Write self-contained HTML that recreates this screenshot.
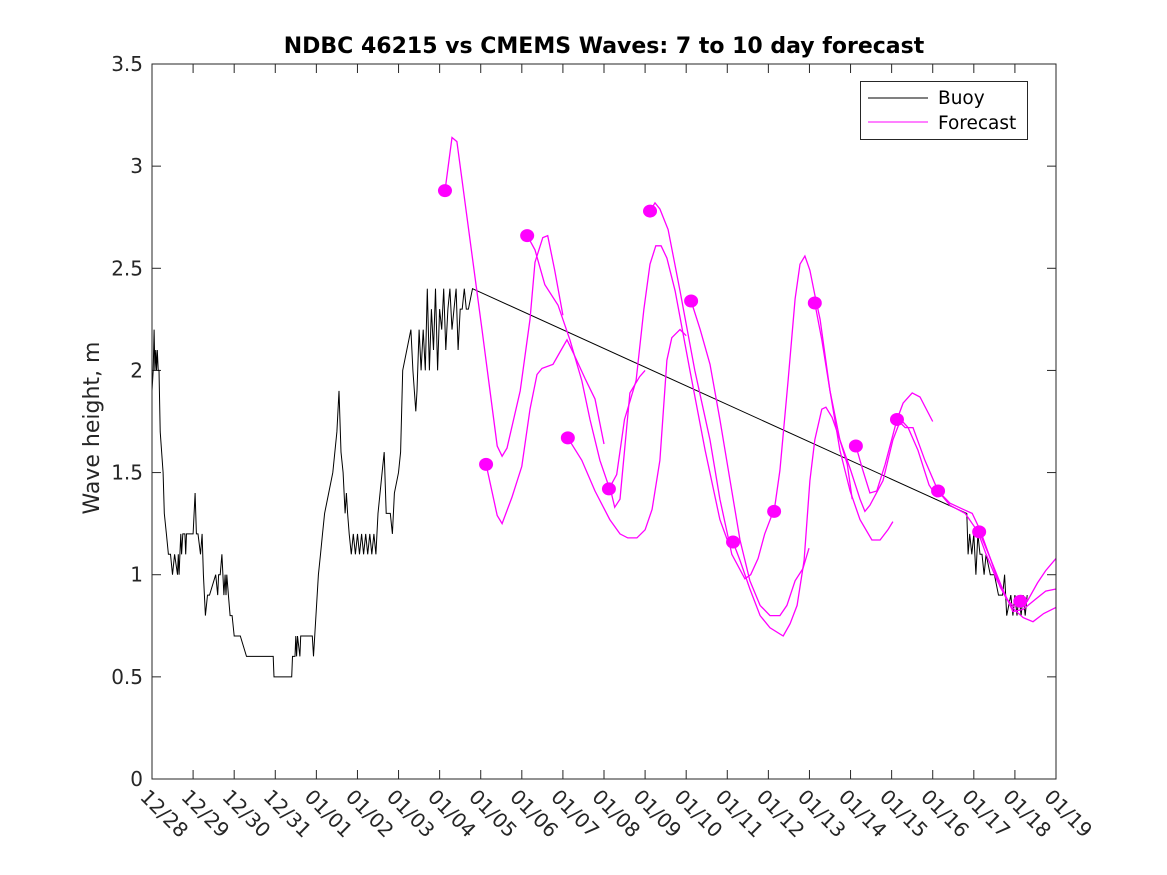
<!DOCTYPE html>
<html><head><meta charset="utf-8">
<style>
html,body{margin:0;padding:0;background:#fff;}
svg{display:block;font-family:"DejaVu Sans","Liberation Sans",sans-serif;}
</style></head>
<body>
<svg id="chart" width="1167" height="875" viewBox="0 0 1167 875" xmlns="http://www.w3.org/2000/svg">
<rect x="0" y="0" width="1167" height="875" fill="#fff"/>
<text x="604" y="53" text-anchor="middle" font-size="22" font-weight="bold" fill="#000">NDBC 46215 vs CMEMS Waves: 7 to 10 day forecast</text>
<text transform="translate(99,428) rotate(-90)" text-anchor="middle" font-size="22" fill="#262626">Wave height, m</text>
<g id="plot"></g>
<rect x="152" y="64" width="904" height="715" fill="none" stroke="#262626" stroke-width="1"/>
<g>
<rect x="860.5" y="81.5" width="167" height="58" fill="#fff" stroke="#262626"/>
<line x1="868" y1="98" x2="928" y2="98" stroke="#000"/>
<text x="938" y="104" font-size="18.5" fill="#000">Buoy</text>
<line x1="868" y1="122" x2="928" y2="122" stroke="#ff00ff"/>
<text x="938" y="129" font-size="18.5" fill="#000">Forecast</text>
</g>
</svg>
<script>
const xTickLabels=["12/28","12/29","12/30","12/31","01/01","01/02","01/03","01/04","01/05","01/06","01/07","01/08","01/09","01/10","01/11","01/12","01/13","01/14","01/15","01/16","01/17","01/18","01/19"];
const yTicks=[0,0.5,1,1.5,2,2.5,3,3.5];
const buoyT=[
0,0.03,0.05,0.07,0.09,0.11,0.13,0.15,0.17,0.2,
0.27,0.3,0.35,0.4,0.45,0.5,0.55,0.62,0.64,0.66,
0.68,0.7,0.72,0.75,0.8,0.82,0.84,0.86,0.88,0.9,
0.95,1.0,1.05,1.08,1.12,1.18,1.22,1.25,1.3,1.35,
1.4,1.55,1.6,1.62,1.66,1.7,1.75,1.78,1.8,1.82,
1.86,1.9,1.95,2.0,2.05,2.15,2.3,2.35,2.95,2.97,
3.4,3.42,3.48,3.5,3.52,3.54,3.6,3.62,3.9,3.93,
4.05,4.1,4.15,4.2,4.3,4.4,4.5,4.55,4.6,4.65,
4.7,4.73,4.76,4.8,4.85,4.9,4.95,5.0,5.05,5.1,
5.15,5.2,5.25,5.3,5.35,5.4,5.45,5.5,5.6,5.65,
5.7,5.8,5.85,5.9,6.0,6.05,6.1,6.2,6.3,6.35,
6.42,6.45,6.5,6.55,6.6,6.65,6.7,6.75,6.8,6.85,
6.9,6.95,7.0,7.05,7.1,7.15,7.2,7.25,7.3,7.35,
7.4,7.45,7.5,7.55,7.6,7.65,7.7,7.8,19.83,19.86,
19.9,19.95,20.0,20.05,20.1,20.15,20.2,20.25,20.3,20.4,
20.5,20.6,20.7,20.75,20.8,20.9,20.95,21.0,21.05,21.1,
21.15,21.2,21.25,21.3];
const buoyV=[
1.9,2.0,2.2,2.0,2.1,2.0,2.1,2.0,2.0,1.7,
1.5,1.3,1.2,1.1,1.1,1.0,1.1,1.0,1.1,1.0,
1.1,1.2,1.1,1.2,1.2,1.1,1.2,1.2,1.2,1.2,
1.2,1.2,1.4,1.2,1.2,1.1,1.2,1.0,0.8,0.9,
0.9,1.0,0.9,1.0,1.0,1.1,0.9,1.0,0.9,1.0,
0.9,0.8,0.8,0.7,0.7,0.7,0.6,0.6,0.6,0.5,
0.5,0.6,0.6,0.7,0.6,0.7,0.6,0.7,0.7,0.6,
1.0,1.1,1.2,1.3,1.4,1.5,1.7,1.9,1.6,1.5,
1.3,1.4,1.3,1.2,1.1,1.2,1.1,1.2,1.1,1.2,
1.1,1.2,1.1,1.2,1.1,1.2,1.1,1.3,1.5,1.6,
1.3,1.3,1.2,1.4,1.5,1.6,2.0,2.1,2.2,2.0,
1.8,1.9,2.2,2.0,2.2,2.0,2.4,2.0,2.3,2.1,
2.4,2.0,2.3,2.2,2.4,2.1,2.3,2.4,2.2,2.3,
2.4,2.1,2.3,2.3,2.4,2.3,2.3,2.4,1.3,1.1,
1.2,1.1,1.2,1.0,1.2,1.1,1.1,1.0,1.1,1.0,
1.0,0.9,0.9,1.0,0.8,0.9,0.8,0.9,0.8,0.9,
0.8,0.9,0.8,0.9];
const fcStarts=[7.13,8.13,9.13,10.12,11.12,12.12,13.12,14.14,15.14,16.13,17.13,18.13,19.13,20.13,21.13];
const fcT=[
[7.13,7.30,7.42,8.03,8.40,8.52,8.64,8.96,9.20,9.32,9.51,9.63,9.80,10.0],
[8.13,8.40,8.52,8.76,9.00,9.20,9.37,9.49,9.76,9.93,10.1,10.29,10.54,10.78,11.0],
[9.13,9.32,9.56,9.88,10.17,10.46,10.66,10.90,11.19,11.26,11.39,11.63,11.87,12.0],
[10.12,10.46,10.78,11.14,11.39,11.58,11.80,12.0,12.17,12.36,12.53,12.65,12.85,13.0],
[11.12,11.31,11.5,11.78,11.97,12.12,12.26,12.39,12.53,12.73,13.09,13.46,13.82,14.0],
[12.12,12.24,12.36,12.56,12.85,13.21,13.58,13.82,14.11,14.43,14.57,14.75,14.91,15.12],
[13.12,13.34,13.58,13.82,14.07,14.31,14.55,14.80,15.04,15.28,15.45,15.65,15.84,15.99],
[14.14,14.31,14.55,14.80,15.04,15.36,15.53,15.70,15.87,16.01,16.13,16.30,16.40,16.55,16.74,16.92,17.04],
[15.14,15.28,15.48,15.65,15.77,15.89,16.01,16.13,16.26,16.50,16.74,16.99,17.23,17.52,17.72,17.91,18.03],
[16.13,16.30,16.50,16.74,16.99,17.23,17.35,17.47,17.79,18.03,18.22,18.40,18.64,18.91,19.1],
[17.13,17.30,17.47,17.64,17.84,18.13,18.28,18.50,18.69,19.0],
[18.13,18.33,18.52,18.81,19.13,19.42,19.79,20.1,20.3,20.55,20.8,21.0],
[19.13,19.42,19.74,19.96,20.15,20.4,20.64,20.93,21.2,21.44,21.7,22.0],
[20.13,20.4,20.7,20.95,21.2,21.5,21.75,22.0],
[21.13,21.3,21.55,21.75,22.0]];
const fcV=[
[2.88,3.14,3.12,2.2,1.63,1.58,1.62,1.90,2.25,2.53,2.65,2.66,2.49,2.27],
[1.54,1.29,1.25,1.38,1.53,1.81,1.98,2.01,2.03,2.09,2.15,2.07,1.96,1.86,1.64],
[2.66,2.59,2.42,2.32,2.15,1.95,1.76,1.56,1.39,1.33,1.37,1.89,1.97,2.0],
[1.67,1.56,1.41,1.27,1.20,1.18,1.18,1.22,1.32,1.56,2.05,2.16,2.20,2.17],
[1.42,1.49,1.76,1.95,2.30,2.52,2.61,2.61,2.55,2.39,2.0,1.61,1.27,1.17],
[2.78,2.82,2.79,2.69,2.39,2.0,1.66,1.37,1.10,0.98,1.0,1.08,1.2,1.31],
[2.34,2.20,2.03,1.76,1.46,1.17,0.97,0.85,0.80,0.80,0.85,0.97,1.03,1.13],
[1.16,1.07,0.93,0.80,0.74,0.70,0.76,0.85,1.07,1.46,1.66,1.81,1.82,1.77,1.66,1.54,1.37],
[1.31,1.51,1.95,2.35,2.52,2.56,2.49,2.37,2.25,1.90,1.61,1.41,1.27,1.17,1.17,1.22,1.26],
[2.33,2.15,1.9,1.66,1.52,1.37,1.31,1.34,1.46,1.66,1.76,1.72,1.61,1.44,1.38],
[1.63,1.51,1.40,1.41,1.54,1.76,1.84,1.89,1.87,1.75],
[1.76,1.72,1.72,1.56,1.41,1.34,1.30,1.21,1.10,0.98,0.88,0.84],
[1.41,1.35,1.32,1.30,1.22,1.08,0.94,0.84,0.79,0.77,0.81,0.84],
[1.21,1.08,0.93,0.82,0.83,0.88,0.92,0.93],
[0.87,0.87,0.96,1.02,1.08]];
const dotV=[2.88,1.54,2.66,1.67,1.42,2.78,2.34,1.16,1.31,2.33,1.63,1.76,1.41,1.21,0.87];

const NS="http://www.w3.org/2000/svg";
const X0=152,X1=1056,Y0=779,Y1=64,DAYS=22,YMAX=3.5;
function xs(d){return X0+(X1-X0)*d/DAYS;}
function ys(v){return Y0-(Y0-Y1)*v/YMAX;}
const plot=document.getElementById('plot');
function mk(tag,attrs){const e=document.createElementNS(NS,tag);for(const k in attrs)e.setAttribute(k,attrs[k]);return e;}

yTicks.forEach((v,i)=>{
  const y=ys(v);
  const t1=mk('line',{x1:X0,y1:y,x2:X0+9,y2:y,stroke:'#262626'});
  
  
  plot.appendChild(t1);
  const t2=mk('line',{x1:X1,y1:y,x2:X1-9,y2:y,stroke:'#262626'});
  
  
  plot.appendChild(t2);
  const lab=mk('text',{x:X0-9,y:y+7,'text-anchor':'end','font-size':'20',fill:'#262626'});
  lab.textContent=String(v);
  
  
  plot.appendChild(lab);
});
xTickLabels.forEach((s,i)=>{
  const x=xs(i);
  const t1=mk('line',{x1:x,y1:Y0,x2:x,y2:Y0-9,stroke:'#262626'});
  
  
  plot.appendChild(t1);
  const t2=mk('line',{x1:x,y1:Y1,x2:x,y2:Y1+9,stroke:'#262626'});
  
  
  plot.appendChild(t2);
  const lab=mk('text',{transform:`translate(${x-13},${Y0+19}) rotate(45)`,'font-size':'20',fill:'#262626'});
  lab.textContent=s;
  
  
  plot.appendChild(lab);
});

const n=Math.min(buoyT.length,buoyV.length);
const bp=buoyT.slice(0,n).map((t,i)=>xs(t).toFixed(1)+','+ys(buoyV[i]).toFixed(1)).join(' ');
const buoy=mk('polyline',{points:bp,fill:'none',stroke:'#000','stroke-width':'1'});


plot.appendChild(buoy);

fcT.forEach((ts,k)=>{
  const pts=ts.map((t,i)=>xs(t).toFixed(1)+','+ys(fcV[k][i]).toFixed(1)).join(' ');
  const pl=mk('polyline',{points:pts,fill:'none',stroke:'#ff00ff','stroke-width':'1.3'});
  
  
  plot.appendChild(pl);
});
fcStarts.forEach((t,i)=>{
  const c=mk('ellipse',{cx:xs(t),cy:ys(dotV[i]),rx:7,ry:6.5,fill:'#ff00ff'});
  
  
  plot.appendChild(c);
});
</script>
</body></html>
